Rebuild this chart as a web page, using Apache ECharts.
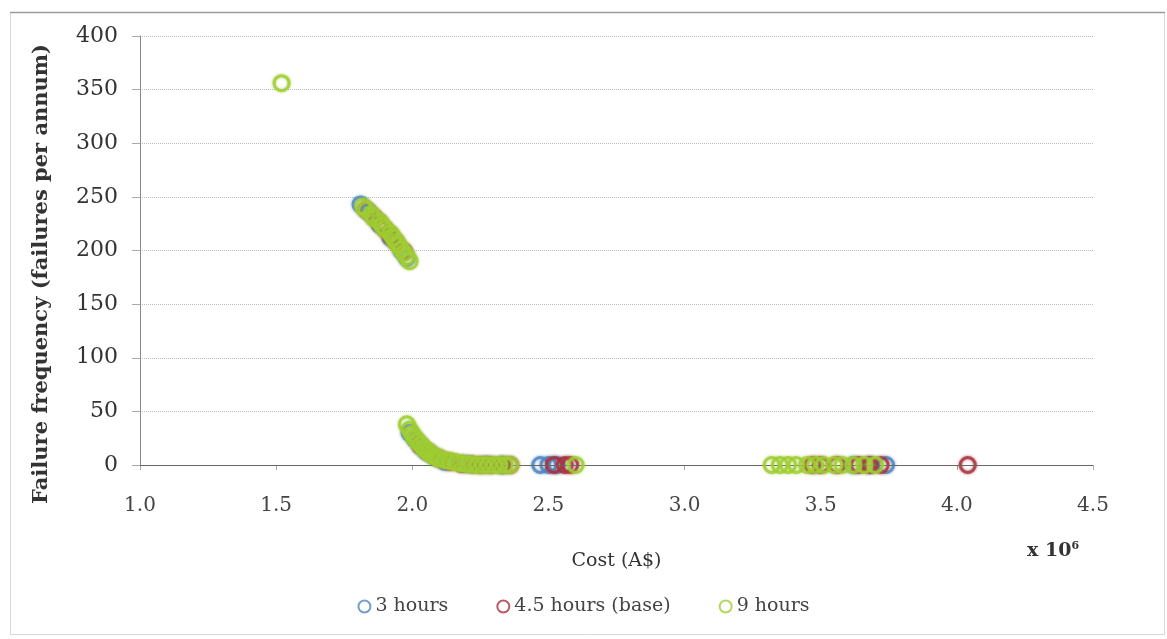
<!DOCTYPE html>
<html>
<head>
<meta charset="utf-8">
<script src="https://cdn.jsdelivr.net/npm/echarts@6/dist/echarts.min.js"></script>
<style>
  html, body { margin: 0; padding: 0; background: #fff; }
  #chart { width: 1167px; height: 639px; }
</style>
</head>
<body>
<div id="chart"></div>
<script>
// Cost in millions of A$, failure frequency in failures per annum
const seriesNames = ['3 hours', '4.5 hours (base)', '9 hours'];

const hours3 = [
  [1.81, 243], [1.84, 236], [1.88, 224], [1.92, 212], [1.96, 200], [1.98, 193],
  [1.99, 30], [2.01, 24], [2.03, 18], [2.05, 13], [2.08, 8], [2.12, 3], [2.20, 1], [2.27, 0.5], [2.33, 0],
  [2.47, 0], [2.50, 0], [2.53, 0],
  [3.62, 0], [3.68, 0], [3.74, 0]
];

const hours45 = [
  [1.83, 238], [1.86, 231], [1.88, 226], [1.90, 220], [1.92, 214], [1.94, 208], [1.97, 199],
  [2.03, 18], [2.06, 12], [2.10, 6], [2.14, 3], [2.18, 1], [2.22, 0.5], [2.25, 0], [2.29, 0], [2.33, 0], [2.36, 0],
  [2.52, 0], [2.56, 0], [2.58, 0],
  [3.47, 0], [3.50, 0], [3.56, 0], [3.64, 0], [3.68, 0], [3.72, 0],
  [4.04, 0]
];

const hours9 = [
  [1.52, 356],
  [1.82, 241], [1.83, 238], [1.85, 234], [1.86, 230], [1.88, 227], [1.89, 223], [1.90, 220],
  [1.92, 216], [1.93, 212], [1.94, 208], [1.95, 205], [1.96, 201], [1.97, 198], [1.98, 194], [1.99, 190],
  [1.98, 38], [1.99, 33], [2.00, 29], [2.01, 25], [2.02, 22], [2.03, 19], [2.04, 16], [2.05, 14],
  [2.06, 12], [2.07, 10], [2.08, 8.5], [2.09, 7], [2.10, 6], [2.12, 4.5], [2.14, 3.5], [2.16, 2.5],
  [2.18, 1.5], [2.20, 1], [2.22, 0.5], [2.24, 0], [2.26, 0], [2.28, 0], [2.30, 0], [2.32, 0], [2.34, 0], [2.36, 0],
  [2.60, 0],
  [3.32, 0], [3.35, 0], [3.38, 0], [3.41, 0], [3.45, 0], [3.48, 0], [3.51, 0], [3.55, 0],
  [3.58, 0], [3.62, 0], [3.66, 0], [3.70, 0]
];

const seriesColors = ['#4f86c2', '#a8323e', '#9fcd32'];
const seriesData = [hours3, hours45, hours9];

const serif = '"DejaVu Serif", "Liberation Serif", serif';

const chart = echarts.init(document.getElementById('chart'));

chart.setOption({
  backgroundColor: '#ffffff',
  animation: false,
  grid: { left: 140, right: 74, top: 36, bottom: 174 },
  xAxis: {
    type: 'value',
    min: 1.0, max: 4.5, interval: 0.5,
    name: 'Cost (A$)',
    nameLocation: 'middle',
    nameGap: 87,
    nameTextStyle: { fontFamily: serif, fontSize: 19, color: '#333' },
    axisLine: { show: false },
    axisTick: { show: true, length: 5, lineStyle: { color: '#aaa' } },
    axisLabel: {
      fontFamily: serif, fontSize: 20, color: '#444', margin: 31,
      formatter: v => v.toFixed(1)
    },
    splitLine: { show: false }
  },
  yAxis: {
    type: 'value',
    min: 0, max: 400, interval: 50,
    axisLine: { show: true, lineStyle: { color: '#888', width: 1 } },
    axisTick: { show: true, length: 8, lineStyle: { color: '#aaa' } },
    axisLabel: { fontFamily: serif, fontSize: 22, color: '#333', margin: 22 },
    splitLine: { show: true, lineStyle: { color: '#bbb', type: 'dotted', width: 1 } }
  },
  legend: {
    bottom: 18,
    left: 'center',
    itemGap: 48,
    itemWidth: 12,
    itemHeight: 12,
    textStyle: { fontFamily: serif, fontSize: 19, color: '#444' },
    itemStyle: { borderWidth: 2 },
    data: seriesNames
  },
  series: seriesNames.map((name, i) => ({
    name: name,
    type: 'scatter',
    data: seriesData[i],
    symbol: 'circle',
    symbolSize: 15,
    itemStyle: {
      color: 'rgba(255,255,255,0)',
      borderColor: seriesColors[i],
      borderWidth: 3,
      shadowBlur: 3,
      shadowColor: seriesColors[i]
    },
    markLine: i === 0 ? {
      silent: true,
      symbol: 'none',
      label: { show: false },
      lineStyle: { color: '#666', type: 'solid', width: 1.2 },
      data: [{ yAxis: 0 }]
    } : undefined,
    z: 3 + i
  })),
  graphic: [
    {
      type: 'rect',
      shape: { x: 10.5, y: 12.5, width: 1154, height: 622 },
      style: { fill: 'none', stroke: '#d8d8d8', lineWidth: 1 },
      silent: true
    },
    {
      type: 'line',
      shape: { x1: 10, y1: 12.5, x2: 1165, y2: 12.5 },
      style: { stroke: '#9a9a9a', lineWidth: 1.5 },
      silent: true
    },
    {
      // vertical axis title
      type: 'text',
      x: 42,
      y: 274,
      rotation: Math.PI / 2,
      style: {
        text: 'Failure frequency (failures per annum)',
        fontFamily: serif,
        fontSize: 21,
        fontWeight: 'bold',
        fill: '#333',
        align: 'center',
        verticalAlign: 'middle'
      }
    },
    {
      type: 'text',
      left: 1027,
      top: 541,
      style: {
        rich: {
          b: { fontFamily: serif, fontSize: 19, fontWeight: 'bold', fill: '#333' },
          s: { fontFamily: serif, fontSize: 11, fontWeight: 'bold', fill: '#333', verticalAlign: 'top', padding: [0, 0, 9, 0] }
        },
        text: '{b|x 10}{s|6}'
      }
    }
  ]
});
</script>
</body>
</html>
